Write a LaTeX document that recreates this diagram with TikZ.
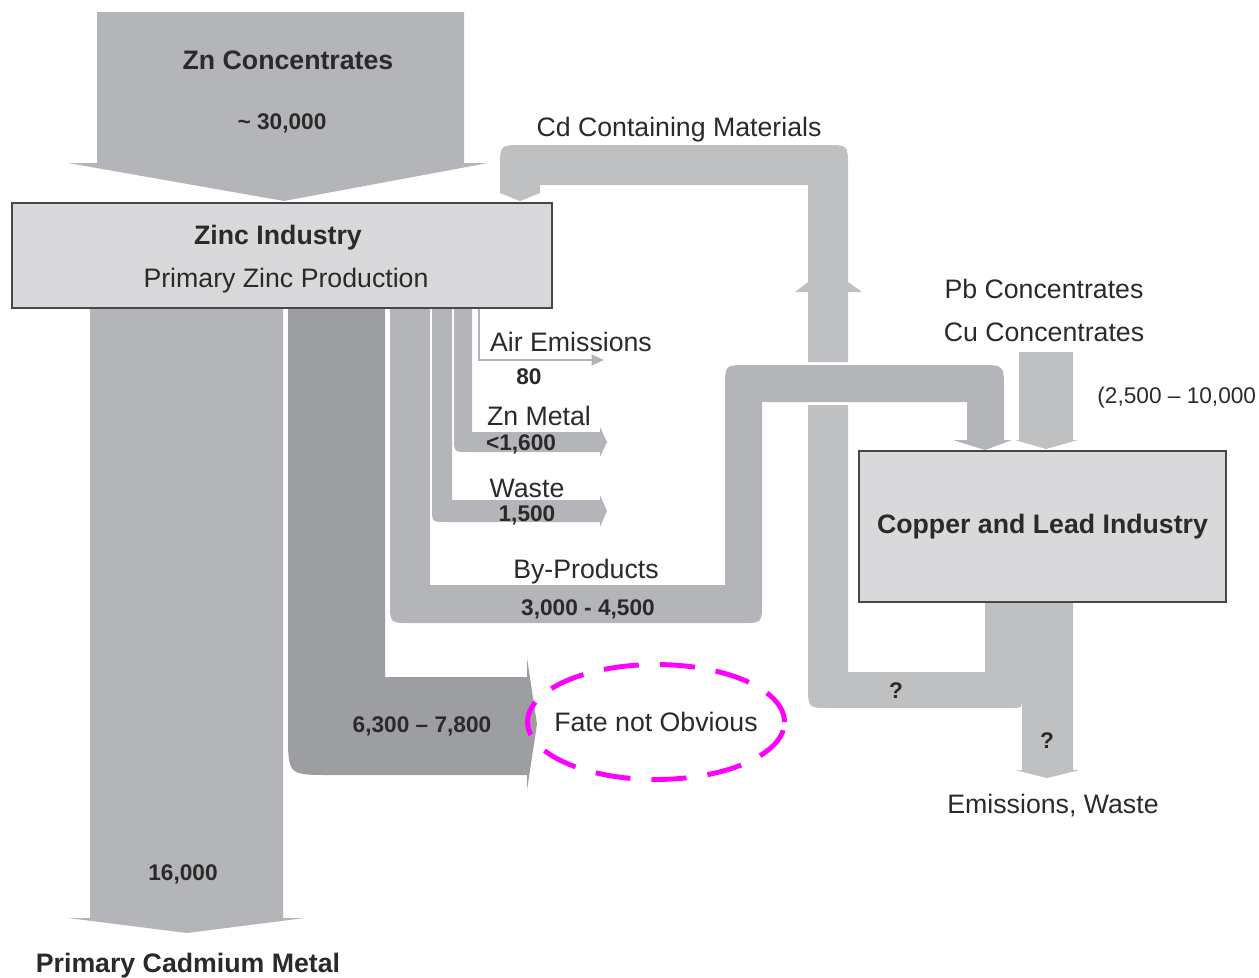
\documentclass[tikz,border=0pt]{standalone}
\usepackage{fontspec}
\setmainfont{Liberation Sans}
\usepackage{tikz}
\usetikzlibrary{arrows.meta,positioning,shapes.geometric}
\definecolor{flowgray}{RGB}{180,181,184}
\definecolor{loopgray}{RGB}{191,192,194}
\definecolor{fategray}{RGB}{157,158,162}
\definecolor{boxgray}{RGB}{217,217,219}
\definecolor{airgray}{RGB}{178,179,182}
\definecolor{txtgray}{RGB}{42,42,42}
\definecolor{fatepink}{RGB}{255,0,255}

\begin{document}
\begin{tikzpicture}[x=0.02cm,y=-0.02cm,
  lbl/.style={font=\fontsize{15.2}{18}\selectfont,text=txtgray,inner sep=0pt,text height=10.9pt,text depth=0pt},
  lblb/.style={lbl,font=\fontsize{15.2}{18}\selectfont\bfseries},
  num/.style={font=\fontsize{12.9}{15}\selectfont\bfseries,text=txtgray,inner sep=0pt,text height=9.2pt,text depth=0pt},
  industry/.style={rectangle,draw=black!72,line width=1.1pt,fill=boxgray,inner sep=0pt,text=txtgray}]
\useasboundingbox (0,0) rectangle (1259,978);
% flows out of and into the zinc industry
\fill[flowgray] (97,12) -- (464,12) -- (464,163) -- (488,163) -- (284,201) -- (68,163) -- (97,163) -- cycle;
\fill[flowgray] (90,300) -- (283,300) -- (283,918) -- (305,918) -- (187,933) -- (68,918) -- (90,918) -- cycle;
\fill[fategray] (288,300) -- (385,300) -- (385,677) -- (527,677) -- (527,658) -- (537,724) -- (527,790) -- (527,775) -- (330,775) .. controls (288,775) .. (288,733) -- cycle;
\fill[flowgray] (390,300) -- (430,300) -- (430,585) -- (725,585) -- (725,387) .. controls (725,365) .. (747,365) -- (980,365) .. controls (1004,365) .. (1004,389) -- (1004,440) -- (1012,440) -- (985,450) -- (953,440) -- (967,440) -- (967,402) -- (762,402) -- (762,603) .. controls (762,623) .. (742,623) -- (410,623) .. controls (390,623) .. (390,603) -- cycle;
\fill[flowgray] (432,300) -- (452,300) -- (452,500) -- (600,500) -- (600,495) -- (607,511) -- (600,527) -- (600,522) -- (446,522) .. controls (432,522) .. (432,508) -- cycle;
\fill[flowgray] (454,300) -- (472,300) -- (472,432) -- (600,432) -- (600,427) -- (607,442) -- (600,457) -- (600,452) -- (468,452) .. controls (454,452) .. (454,438) -- cycle;
% Cd loop back from copper and lead
\fill[loopgray] (808,362) -- (808,185) -- (540,185) -- (540,193) -- (520,201) -- (500,193) -- (500,167) .. controls (500,145) .. (522,145) -- (826,145) .. controls (848,145) .. (848,167) -- (848,362) -- cycle;
\fill[loopgray] (795,292) -- (808,282) -- (808,292) -- cycle;
\fill[loopgray] (848,282) -- (862,292) -- (848,292) -- cycle;
\fill[loopgray] (808,405) -- (848,405) -- (848,672) -- (1022,672) -- (1022,698) .. controls (1022,708) .. (1012,708) -- (830,708) .. controls (808,708) .. (808,686) -- cycle;
\fill[loopgray] (985,600) -- (1073,600) -- (1073,770) -- (1080,770) -- (1047,778) -- (1015,770) -- (1022,770) -- (1022,672) -- (985,672) -- cycle;
\fill[loopgray] (1019,352) -- (1073,352) -- (1073,440) -- (1078,440) -- (1046,449) -- (1015,440) -- (1019,440) -- cycle;

\node[industry,minimum width=10.8cm,minimum height=2.1cm] (zinc) at (282,255.5) {};
\node[industry,minimum width=7.34cm,minimum height=3.02cm,font=\fontsize{15.2}{18}\selectfont\bfseries] (copper) at (1042.5,526.5) {Copper and Lead Industry};
\coordinate (airend) at (604,360);
\draw[airgray,line width=1.2pt,-{Triangle[length=7pt,width=6pt]}] ([xshift=-1.48cm]zinc.south east) |- (airend);
\node[ellipse,lbl,draw=fatepink,line width=2.8pt,dash pattern=on 20pt off 12pt,inner xsep=-10pt,inner ysep=0pt,minimum width=5.14cm,minimum height=2.3cm] (fate) at (656,722) {Fate not Obvious};

\node[lblb] (zncon) at (288,60) {Zn Concentrates};
\node[num] (znval) at (282,121) {\textasciitilde{} 30,000};
\node[lblb] (zinctitle) at (278,235) {Zinc Industry};
\node[lbl] (zincsub) at (286,278) {Primary Zinc Production};
\node[lbl] (cdlbl) at (679,127) {Cd Containing Materials};
\node[lbl] (airlbl) at (571,342) {Air Emissions};
\node[num] (airval) at (529,376) {80};
\node[lbl] (znmlbl) at (539,416) {Zn Metal};
\node[num] (znmval) at (521,442) {<1,600};
\node[lbl] (wastelbl) at (527,488) {Waste};
\node[num] (wasteval) at (527,513) {1,500};
\node[lbl] (bylbl) at (586,569) {By-Products};
\node[num] (byval) at (588,607) {3,000 - 4,500};
\node[num] (fateval) at (422,724) {6,300 \textendash{} 7,800};
\node[lbl] (pblbl) at (1044,289) {Pb Concentrates};
\node[lbl,below=0.455cm of pblbl] (culbl) {Cu Concentrates};
\node[num,font=\fontsize{12.9}{15}\selectfont,anchor=west] (cuval) at (1097,395) {(2,500 \textendash{} 10,000};
\node[num] (qloop) at (896,690) {?};
\node[num] (qdown) at (1047,740) {?};
\node[lbl] (emlbl) at (1053,804) {Emissions, Waste};
\node[num] (cdval) at (183,872) {16,000};
\node[lblb] (cdmetal) at (188,963) {Primary Cadmium Metal};
\end{tikzpicture}
\end{document}
